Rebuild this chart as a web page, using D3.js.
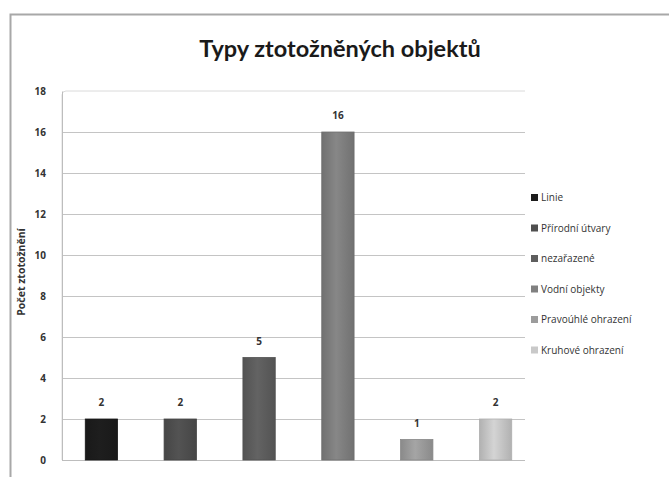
<!DOCTYPE html>
<html>
<head>
<meta charset="utf-8">
<script src="https://cdn.jsdelivr.net/npm/d3@7"></script>
<style>
  html, body { margin: 0; padding: 0; background: #fff; }
  svg { display: block; }
</style>
</head>
<body>
<svg id="chart" width="669" height="477"></svg>
<script>
// Types of identified objects and their counts
const categories = ["Linie", "Přírodní útvary", "nezařazené", "Vodní objekty", "Pravoúhlé ohrazení", "Kruhové ohrazení"];
const counts = [2, 2, 5, 16, 1, 2];
const barColors = ["#1c1c1c", "#4f4f4f", "#5e5e5e", "#808080", "#9c9c9c", "#c9c9c9"];
const yTicks = [0, 2, 4, 6, 8, 10, 12, 14, 16, 18];
const titleText = "Typy ztotožněných objektů";
const yTitle = "Počet ztotožnění";

const svg = d3.select("#chart");
const font = "'Open Sans', 'Liberation Sans', sans-serif";

// outer chart frame
svg.append("path")
  .attr("d", "M10.5,477 L10.5,14.5 L669,14.5")
  .attr("fill", "none").attr("stroke", "#a8a8a8").attr("stroke-width", 2);

const plot = { left: 62, right: 535, top: 91, bottom: 460 };

const x = d3.scaleBand().domain(categories).range([plot.left, plot.right]).paddingInner(0.59).paddingOuter(0.295);
const y = d3.scaleLinear().domain([0, 18]).range([plot.bottom, plot.top]);

// plot area outline (top and left edges)
svg.append("path")
  .attr("d", `M${plot.left},${plot.bottom} L${plot.left},${plot.top + 4} Q${plot.left},${plot.top} ${plot.left + 4},${plot.top} L${plot.right - 10},${plot.top}`)
  .attr("fill", "none").attr("stroke", "#dadada");

// gridlines
svg.append("g").selectAll("line").data(yTicks.filter(d => d > 0 && d < 18)).join("line")
  .attr("x1", plot.left).attr("x2", plot.right - 10)
  .attr("y1", d => Math.round(y(d)) + 0.5).attr("y2", d => Math.round(y(d)) + 0.5)
  .attr("stroke", "#c4c4c4").attr("stroke-width", 1.2);

// y axis
const yAxis = d3.axisLeft(y).tickValues(yTicks).tickSize(0).tickPadding(16);
const gy = svg.append("g").attr("transform", `translate(${plot.left},0)`).call(yAxis);
gy.select(".domain").attr("stroke", "#bdbdbd");
gy.selectAll("text").attr("font-family", font).attr("font-size", 10).attr("font-weight", 700).attr("fill", "#333");

// baseline
svg.append("line").attr("x1", plot.left).attr("x2", plot.right - 10)
  .attr("y1", plot.bottom + 0.5).attr("y2", plot.bottom + 0.5).attr("stroke", "#bdbdbd");

// y axis title
svg.append("text")
  .attr("transform", `translate(25,272) rotate(-90)`)
  .attr("text-anchor", "middle").attr("font-family", font).attr("font-size", 10.5).attr("font-weight", 700)
  .attr("fill", "#333").text(yTitle);

// bar gradients
const defs = svg.append("defs");
barColors.forEach((c, i) => {
  const g = defs.append("linearGradient").attr("id", "g" + i).attr("x1", 0).attr("x2", 1).attr("y1", 0).attr("y2", 0);
  const base = d3.color(c);
  g.append("stop").attr("offset", "0%").attr("stop-color", base.darker(0.35));
  g.append("stop").attr("offset", "45%").attr("stop-color", base.brighter(0.15));
  g.append("stop").attr("offset", "100%").attr("stop-color", base.darker(0.35));
});

// bars
svg.append("g").selectAll("rect").data(categories).join("rect")
  .attr("x", d => x(d)).attr("width", x.bandwidth())
  .attr("y", (d, i) => y(counts[i])).attr("height", (d, i) => y(0) - y(counts[i]))
  .attr("fill", (d, i) => `url(#g${i})`)
  .attr("stroke", (d, i) => d3.color(barColors[i]).darker(0.4)).attr("stroke-width", 0.8);

// value labels
svg.append("g").selectAll("text").data(categories).join("text")
  .attr("x", d => x(d) + x.bandwidth() / 2).attr("y", (d, i) => y(counts[i]) - 13)
  .attr("text-anchor", "middle").attr("font-family", font).attr("font-size", 10).attr("font-weight", 700)
  .attr("fill", "#333").text((d, i) => counts[i]);

// title
svg.append("text").attr("x", 340).attr("y", 57).attr("text-anchor", "middle")
  .attr("font-family", "Lato, 'Open Sans', sans-serif").attr("font-size", 23.5).attr("font-weight", 700)
  .attr("fill", "#1a1a1a").text(titleText);

// legend
const legend = svg.append("g").selectAll("g").data(categories).join("g")
  .attr("transform", (d, i) => `translate(531,${198 + i * 30.5})`);
legend.append("rect").attr("x", 0).attr("y", -4).attr("width", 7).attr("height", 7)
  .attr("fill", (d, i) => barColors[i]);
legend.append("text").attr("x", 10).attr("y", 3)
  .attr("font-family", font).attr("font-size", 10).attr("fill", "#333").text(d => d);
</script>
</body>
</html>
